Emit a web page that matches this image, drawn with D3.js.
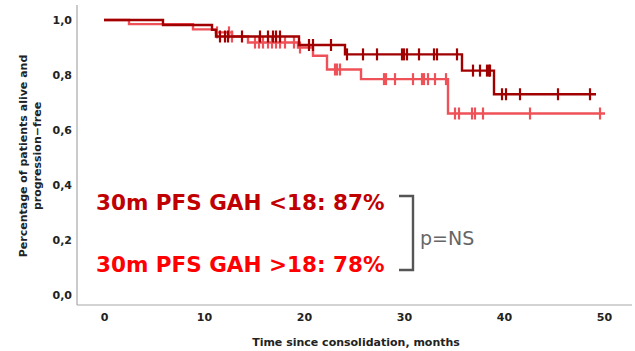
<!DOCTYPE html>
<html>
<head>
<meta charset="utf-8">
<title>PFS by GAH</title>
<script src="https://cdn.jsdelivr.net/npm/d3@7"></script>
<style>
  body { margin: 0; background: #fff; }
  svg text { font-family: "DejaVu Sans", sans-serif; }
</style>
</head>
<body>
<svg id="chart" width="635" height="351"></svg>
<script>
// GAH <18 (dark red): step times (months) and survival after each step
const lowTimes = [0, 5.9, 10.8, 11.2, 19.5, 24.1, 35.8, 39.0];
const lowSurv  = [1.0, 0.982, 0.964, 0.94, 0.909, 0.875, 0.816, 0.73];
const lowEnd = 49.2;
const lowCensor = [11.6, 12.1, 12.4, 13.8, 15.6, 16.4, 16.9, 17.2, 17.6, 20.5, 20.9, 22.7,
  24.3, 25.9, 27.3, 29.8, 30.0, 30.3, 31.5, 33.0, 33.3, 35.3, 36.9, 37.6, 38.3, 38.5, 38.6,
  39.8, 40.2, 41.6, 45.4, 48.6];

// GAH >18 (light red)
const highTimes = [0, 2.5, 8.9, 11.2, 12.8, 14.4, 19.4, 20.9, 22.3, 25.7, 34.4];
const highSurv  = [1.0, 0.985, 0.966, 0.955, 0.94, 0.918, 0.9, 0.87, 0.82, 0.785, 0.66];
const highEnd = 50.1;
const highCensor = [11.3, 12.5, 12.8, 15.1, 15.5, 15.9, 16.4, 16.8, 17.2, 17.6, 18.1, 19.0,
  19.6, 23.1, 23.3, 23.6, 28.0, 28.2, 29.1, 30.9, 31.8, 32.0, 32.4, 33.1, 34.2, 35.1, 35.5,
  36.8, 37.1, 37.9, 42.6, 49.6];

const xTicks = [0, 10, 20, 30, 40, 50];
const yTicks = [0, 0.2, 0.4, 0.6, 0.8, 1.0];
const notes = ["30m PFS GAH <18: 87%", "30m PFS GAH >18: 78%"];

const svg = d3.select("#chart");
const x = d3.scaleLinear().domain([0, 50]).range([104, 604]);
const y = d3.scaleLinear().domain([0, 1]).range([295, 20]);

// axis frame
svg.append("line").attr("x1", 77).attr("x2", 77).attr("y1", 5).attr("y2", 305)
  .attr("stroke", "#a8a8a8").attr("stroke-width", 1.2);
svg.append("line").attr("x1", 77).attr("x2", 632).attr("y1", 305).attr("y2", 305)
  .attr("stroke", "#a8a8a8").attr("stroke-width", 1.2);

const yAxis = svg.append("g").attr("transform", "translate(77,0)")
  .call(d3.axisLeft(y).tickValues(yTicks).tickSize(0).tickPadding(5)
    .tickFormat(d => d3.format(".1f")(d).replace(".", ",")));
const xAxis = svg.append("g").attr("transform", "translate(0,305)")
  .call(d3.axisBottom(x).tickValues(xTicks).tickSize(0).tickPadding(8));
[yAxis, xAxis].forEach(g => {
  g.select(".domain").remove();
  g.selectAll("text").attr("font-family", "DejaVu Sans").attr("font-size", 11)
    .attr("font-weight", "bold").attr("fill", "#222");
});

// axis titles
svg.append("text").attr("x", 356).attr("y", 346).attr("text-anchor", "middle")
  .attr("font-size", 11).attr("font-weight", "bold").attr("fill", "#222")
  .text("Time since consolidation, months");
const yt = svg.append("text").attr("transform", "translate(27,156) rotate(-90)")
  .attr("text-anchor", "middle").attr("font-size", 11).attr("font-weight", "bold").attr("fill", "#222");
yt.append("tspan").attr("x", 0).attr("y", 0).text("Percentage of patients alive and");
yt.append("tspan").attr("x", 0).attr("y", 14).text("progression\u2212free");

// KM curves
function survAt(times, surv, t) {
  const i = d3.bisectRight(times, t) - 1;
  return surv[Math.max(0, i)];
}
function drawCurve(times, surv, end, censor, color) {
  const pts = times.map((t, i) => [t, surv[i]]);
  pts.push([end, surv[surv.length - 1]]);
  const line = d3.line().x(d => x(d[0])).y(d => y(d[1])).curve(d3.curveStepAfter);
  svg.append("path").datum(pts).attr("d", line)
    .attr("fill", "none").attr("stroke", color).attr("stroke-width", 2.4);
  svg.append("g").selectAll("line").data(censor).enter().append("line")
    .attr("x1", d => x(d)).attr("x2", d => x(d))
    .attr("y1", d => y(survAt(times, surv, d)) - 6)
    .attr("y2", d => y(survAt(times, surv, d)) + 6)
    .attr("stroke", color).attr("stroke-width", 2.2);
}
drawCurve(highTimes, highSurv, highEnd, highCensor, "#ee5157");
drawCurve(lowTimes, lowSurv, lowEnd, lowCensor, "#a00000");

// annotations
svg.append("text").attr("x", 96).attr("y", 210).attr("font-size", 21.5)
  .attr("font-weight", "bold").attr("fill", "#c00000").text(notes[0]);
svg.append("text").attr("x", 96).attr("y", 272).attr("font-size", 21.5)
  .attr("font-weight", "bold").attr("fill", "#ff0000").text(notes[1]);

svg.append("path").attr("d", "M399,196 H413 V270 H399")
  .attr("fill", "none").attr("stroke", "#555").attr("stroke-width", 2.4);
svg.append("text").attr("x", 420).attr("y", 245).attr("font-size", 19)
  .attr("fill", "#666").text("p=NS");
</script>
</body>
</html>
